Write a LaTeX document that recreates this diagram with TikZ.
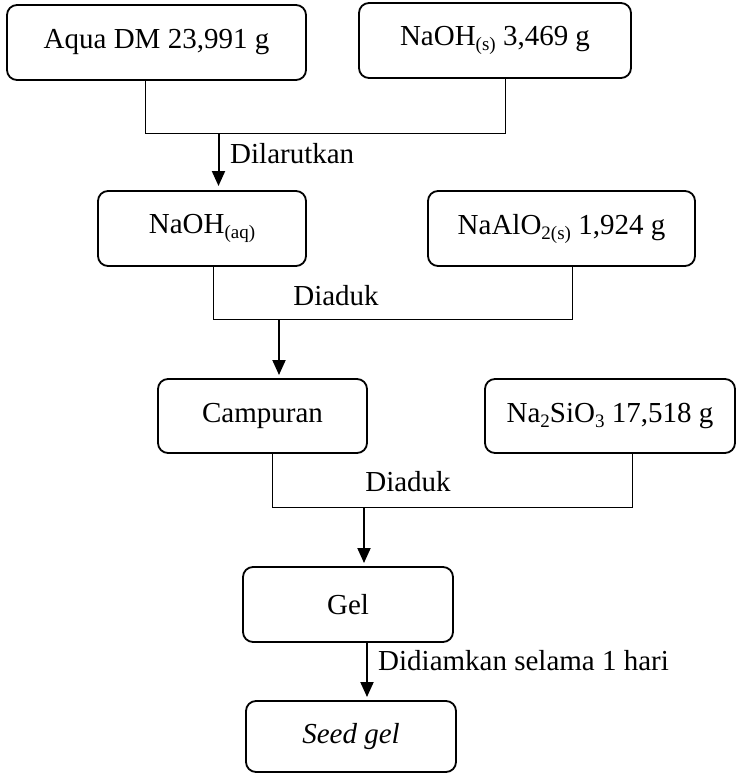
\documentclass[tikz,border=0pt]{standalone}
\usepackage{fontspec}
\setmainfont{Liberation Serif}
\usetikzlibrary{arrows.meta}
\newcommand{\chemsub}[1]{\raisebox{-5pt}{\fontsize{19}{19}\selectfont #1}}
\begin{document}
\begin{tikzpicture}[x=1pt,y=-1pt,
  box/.style={draw,line width=1.8pt,rounded corners=10pt,inner sep=0pt,font=\fontsize{29}{34}\selectfont},
  link/.style={line width=0.9pt},
  arr/.style={line width=2pt,-{Triangle[width=13pt,length=15pt]}},
  lbl/.style={inner sep=0pt,font=\fontsize{29}{34}\selectfont}]
\useasboundingbox (0,0) rectangle (737,774);
% boxes
\node[box,minimum width=299pt,minimum height=75pt] (A) at (156.5,42.5) {Aqua DM 23,991 g};
\node[box,minimum width=272pt,minimum height=75pt] (B) at (495,40.5) {NaOH\chemsub{(s)} 3,469 g};
\node[box,minimum width=208pt,minimum height=75pt] (C) at (202,228.5) {NaOH\chemsub{(aq)}};
\node[box,minimum width=267pt,minimum height=75pt] (D) at (561.5,228.5) {NaAlO\chemsub{2(s)} 1,924 g};
\node[box,minimum width=209pt,minimum height=74pt] (E) at (262.5,416) {Campuran};
\node[box,minimum width=250pt,minimum height=74pt] (F) at (610,416) {Na\chemsub{2}SiO\chemsub{3} 17,518 g};
\node[box,minimum width=210pt,minimum height=75pt] (G) at (348,604.5) {Gel};
\node[box,minimum width=210pt,minimum height=71pt] (H) at (351,736.5) {\textit{Seed gel}};
% junction coordinates
\coordinate (l1) at (145,133);
\coordinate (r1) at (505,133);
\coordinate (s1) at (218.5,133);
\coordinate (t1) at (218.5,186);
\coordinate (l2) at (213,319);
\coordinate (r2) at (572,319);
\coordinate (s2) at (279,320);
\coordinate (t2) at (279,375);
\coordinate (l3) at (272.5,507);
\coordinate (r3) at (632.5,507);
\coordinate (s3) at (364,508);
\coordinate (t3) at (364,563);
\coordinate (s4) at (367,642);
\coordinate (t4) at (367,697);
% connectors
\draw[link] (l1 |- A.south) -- (l1) -- (r1) -- (r1 |- B.south);
\draw[arr] (s1) -- (t1);
\draw[link] (l2 |- C.south) -- (l2) -- (r2) -- (r2 |- D.south);
\draw[arr] (s2) -- (t2);
\draw[link] (l3 |- E.south) -- (l3) -- (r3) -- (r3 |- F.south);
\draw[arr] (s3) -- (t3);
\draw[arr] (s4) -- (t4);
% labels
\node[lbl,anchor=base west] (L1) at (230,163) {Dilarutkan};
\node[lbl,anchor=base] (L2) at (336,305) {Diaduk};
\node[lbl,anchor=base] (L3) at (408,491.5) {Diaduk};
\node[lbl,anchor=base west] (L4) at (378,670.5) {Didiamkan selama 1 hari};
\end{tikzpicture}
\end{document}
